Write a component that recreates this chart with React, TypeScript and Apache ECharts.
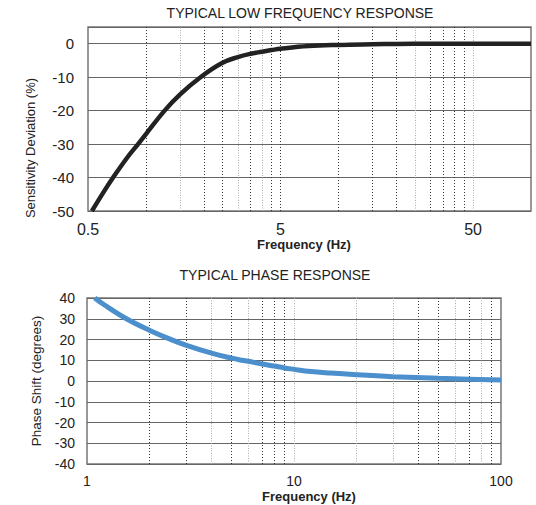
import React, { useEffect, useRef } from "react";
import * as echarts from "echarts";

// Low frequency response (sensitivity deviation, %)
const ampFreq = [0.524, 0.6, 0.675, 0.8, 0.91, 1.0, 1.25, 1.5, 1.92, 2.5, 3.0, 3.5, 4.0, 4.5, 5.0, 7, 10, 15, 20, 30, 50, 100];
const ampDev = [-50, -44.5, -40, -34, -30, -27, -20, -15.2, -10, -5.7, -4.0, -3.0, -2.4, -1.9, -1.5, -0.7, -0.35, -0.15, -0.05, 0, 0, 0];

// Phase response (degrees)
const phaseFreq = [1.09, 1.2, 1.55, 2, 2.5, 3, 4, 5, 5.6, 6, 7, 8, 9, 10, 11.3, 15, 20, 30, 50, 70, 100];
const phaseDeg = [40, 37, 30, 24.5, 20.3, 17.3, 13.4, 11.0, 10, 9.5, 8.2, 7.2, 6.3, 5.6, 4.8, 3.8, 3.0, 2.1, 1.3, 0.9, 0.5];

// Tick labels
const ampXTicks = [0.5, 5, 50];
const phaseXTicks = [1, 10, 100];

// Vertical reference lines (frequencies)
const ampGridDark = [1, 2, 2.5, 3.5, 4.5, 5, 10, 15, 20, 30, 35, 40, 45];
const ampGridLight = [1.5, 3, 4, 25, 50];
const phaseGridDark = [2, 3, 5, 7, 8, 9, 40, 50, 70, 90];
const phaseGridLight = [4, 6, 10, 20, 30, 60, 80];

const FONT = "Liberation Sans, Arial, sans-serif";
const TXT = "#222";

function vLines(dark: number[], light: number[]) {
  return [
    ...dark.map((v) => ({ xAxis: v, lineStyle: { color: "#333", width: 1, type: [1, 2] } })),
    ...light.map((v) => ({ xAxis: v, lineStyle: { color: "#aaa", width: 1, type: [1, 1.5] } })),
  ];
}

export default function App() {
  const ref = useRef<HTMLDivElement>(null);
  useEffect(() => {
    if (!ref.current) return;
    const chart = echarts.init(ref.current, undefined, { renderer: "svg" });
    const option: any = {
      animation: false,
      backgroundColor: "#fff",
      textStyle: { fontFamily: FONT },
      graphic: [
        {
          type: "text",
          x: 300,
          y: 13,
          style: {
            text: "TYPICAL LOW FREQUENCY RESPONSE",
            align: "center",
            verticalAlign: "middle",
            textAlign: "center",
            textVerticalAlign: "middle",
            fontSize: 14,
            fontFamily: FONT,
            fill: TXT,
          },
        },
        {
          type: "text",
          x: 275,
          y: 275,
          style: {
            text: "TYPICAL PHASE RESPONSE",
            align: "center",
            verticalAlign: "middle",
            textAlign: "center",
            textVerticalAlign: "middle",
            fontSize: 14,
            fontFamily: FONT,
            fill: TXT,
          },
        },
      ],
      grid: [
        { left: 88, top: 27, width: 443, height: 184, show: true, borderColor: "#777", borderWidth: 1.5, backgroundColor: "#fff" },
        { left: 87, top: 298, width: 414, height: 166, show: true, borderColor: "#777", borderWidth: 1.5, backgroundColor: "#fff" },
      ],
      xAxis: [
        {
          type: "log",
          logBase: 10,
          gridIndex: 0,
          min: 0.5,
          max: 100,
          name: "Frequency (Hz)",
          nameLocation: "middle",
          nameGap: 26,
          nameTextStyle: { fontSize: 13, fontWeight: "bold", color: TXT, padding: [0, 11, 0, 0] },
          axisLine: { show: false },
          axisTick: { show: false },
          splitLine: { show: false },
          axisLabel: { customValues: ampXTicks, fontSize: 16, color: TXT, margin: 10 },
        },
        {
          type: "log",
          logBase: 10,
          gridIndex: 1,
          min: 1,
          max: 100,
          name: "Frequency (Hz)",
          nameLocation: "middle",
          nameGap: 26,
          nameTextStyle: { fontSize: 13, fontWeight: "bold", color: TXT, padding: [0, 0, 0, 30] },
          axisLine: { show: false },
          axisTick: { show: false },
          splitLine: { show: false },
          axisLabel: { customValues: phaseXTicks, fontSize: 14, color: TXT, margin: 10 },
        },
      ],
      yAxis: [
        {
          type: "value",
          gridIndex: 0,
          min: -50,
          max: 5,
          interval: 10,
          name: "Sensitivity Deviation (%)",
          nameLocation: "middle",
          nameGap: 51,
          nameTextStyle: { fontSize: 13, color: TXT, padding: [0, 58, 0, 0] },
          axisLine: { show: false },
          axisTick: { show: false },
          splitLine: { show: true, lineStyle: { color: "#666", width: 1 } },
          axisLabel: {
            fontSize: 15,
            color: TXT,
            margin: 14,
            formatter: (v: number) => (v % 10 === 0 ? String(v) : ""),
          },
        },
        {
          type: "value",
          gridIndex: 1,
          min: -40,
          max: 40,
          interval: 10,
          name: "Phase Shift (degrees)",
          nameLocation: "middle",
          nameGap: 39,
          nameTextStyle: { fontSize: 13.5, color: TXT },
          axisLine: { show: false },
          axisTick: { show: false },
          splitLine: { show: true, lineStyle: { color: "#666", width: 1 } },
          axisLabel: { fontSize: 14, color: TXT, margin: 12 },
        },
      ],
      series: [
        {
          type: "line",
          xAxisIndex: 0,
          yAxisIndex: 0,
          data: [],
          silent: true,
          z: 1,
          markLine: { silent: true, symbol: ["none", "none"], label: { show: false }, animation: false, data: vLines(ampGridDark, ampGridLight) },
        },
        {
          type: "line",
          xAxisIndex: 1,
          yAxisIndex: 1,
          data: [],
          silent: true,
          z: 1,
          markLine: { silent: true, symbol: ["none", "none"], label: { show: false }, animation: false, data: vLines(phaseGridDark, phaseGridLight) },
        },
        {
          type: "line",
          xAxisIndex: 0,
          yAxisIndex: 0,
          data: ampFreq.map((f, i) => [f, ampDev[i]]),
          showSymbol: false,
          smooth: 0.4,
          z: 5,
          lineStyle: { color: "#222", width: 4.5 },
        },
        {
          type: "line",
          xAxisIndex: 1,
          yAxisIndex: 1,
          data: phaseFreq.map((f, i) => [f, phaseDeg[i]]),
          showSymbol: false,
          smooth: 0.4,
          z: 5,
          lineStyle: { color: "#4b8fcc", width: 5 },
        },
      ],
    };
    chart.setOption(option);
    return () => chart.dispose();
  }, []);
  return <div ref={ref} style={{ position: "absolute", left: 0, top: 0, width: 536, height: 505 }} />;
}
